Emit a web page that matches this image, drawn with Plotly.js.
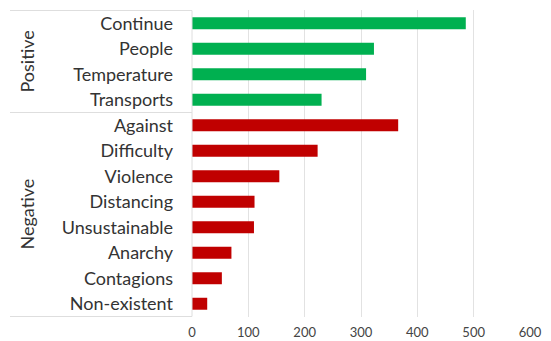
<!DOCTYPE html>
<html><head><meta charset="utf-8">
<script src="https://cdn.plot.ly/plotly-3.0.1.min.js"></script>
<style>html,body{margin:0;padding:0;background:#fff}#chart{width:551px;height:341px}</style>
</head><body><div id="chart"></div>
<script>
const categories = ['Continue','People','Temperature','Transports','Against','Difficulty','Violence','Distancing','Unsustainable','Anarchy','Contagions','Non-existent'];
const values = [486,323,309,230,366,223,155,111,110,70,53,27];
const groupOf = ['Positive','Positive','Positive','Positive','Negative','Negative','Negative','Negative','Negative','Negative','Negative','Negative'];
const groupNames = ['Positive','Negative'];
const groupColors = {Positive:'#00B050', Negative:'#C00000'};
const xTicks = [0,100,200,300,400,500,600];

const FONT = 'Lato, "Open Sans", sans-serif';
const W = 551, L = 192, R = 21;
const plotW = W - L - R;
const leftPaper = (10 - L) / plotW;

const traces = groupNames.map(g => {
  const idx = categories.map((c,i)=>i).filter(i => groupOf[i] === g);
  return {
    type:'bar', orientation:'h',
    y: idx.map(i=>categories[i]), x: idx.map(i=>values[i]),
    marker:{color:groupColors[g]}, width:0.47, hoverinfo:'skip', showlegend:false
  };
});

const shapes = [];
const annotations = [];
const boundaries = [-0.5];
groupNames.forEach(g => {
  const idx = categories.map((c,i)=>i).filter(i => groupOf[i] === g);
  const s = Math.min(...idx), e = Math.max(...idx);
  boundaries.push(e + 0.5);
  annotations.push({
    xref:'paper', yref:'y', x:(26 - L)/plotW, y:(s+e)/2, text:g, textangle:-90,
    showarrow:false, font:{family:FONT, size:18, color:'#333'}, xanchor:'center', yanchor:'middle'
  });
});
boundaries.forEach(b => shapes.push({type:'line', xref:'paper', yref:'y', x0:leftPaper, x1:0, y0:b, y1:b, line:{color:'#dedede', width:1}}));
shapes.push({type:'line', xref:'paper', yref:'y', x0:0, x1:0, y0:-0.5, y1:categories.length-0.5, line:{color:'#dedede', width:1}});

Plotly.newPlot('chart', traces, {
  width:551, height:341,
  margin:{l:L, r:R, t:10, b:24},
  paper_bgcolor:'#fff', plot_bgcolor:'#fff',
  xaxis:{range:[0,600], tickvals:xTicks, ticktext:xTicks.map(String), showgrid:true, gridcolor:'#e2e2e2', zeroline:false,
         tickfont:{family:FONT, size:13, color:'#444'}, showline:false, ticks:'', ticklabelstandoff:6},
  yaxis:{type:'category', categoryorder:'array', categoryarray:categories, autorange:'reversed', range:[categories.length-0.5,-0.5],
         tickfont:{family:FONT, size:18, color:'#333'}, ticks:'', ticklabelstandoff:18, showgrid:false, zeroline:false, showline:false},
  shapes, annotations
}, {staticPlot:true});
</script></body></html>
